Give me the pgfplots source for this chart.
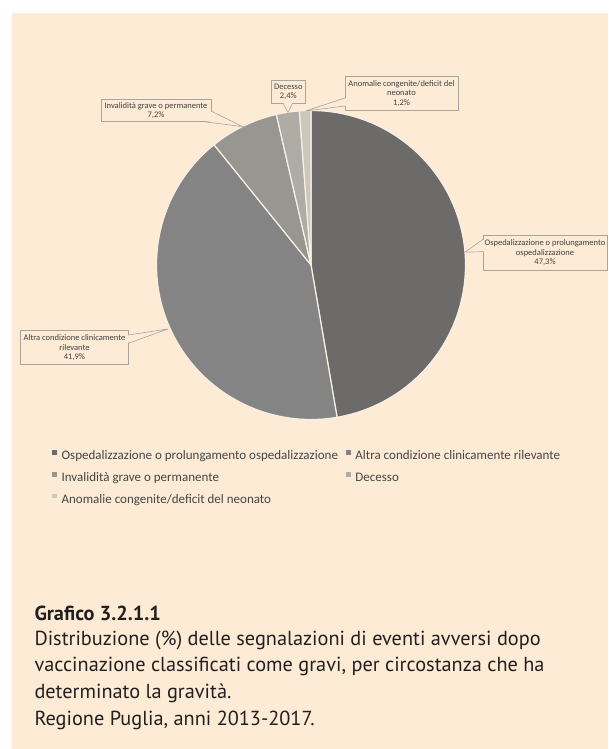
\documentclass[border=0pt]{standalone}
\usepackage{pgfplots}
\pgfplotsset{compat=1.18}
\usepackage{fontspec}
\setmainfont{Carlito}
\newfontfamily\capfont{PT Sans}
\definecolor{bg}{HTML}{FDEBD6}
\definecolor{cA}{HTML}{6D6B6A}
\definecolor{cB}{HTML}{858484}
\definecolor{cC}{HTML}{989691}
\definecolor{cD}{HTML}{AFACA5}
\definecolor{cE}{HTML}{CDC6BA}
\definecolor{sep}{HTML}{F8F0E4}
\definecolor{boxline}{HTML}{A8A49E}
\definecolor{labtext}{HTML}{404040}
\definecolor{legtext}{HTML}{454545}
\definecolor{captext}{HTML}{231F20}
\begin{document}
\begin{tikzpicture}
\useasboundingbox (0,0) rectangle (608pt,749pt);
\fill[white] (0,0) rectangle (608pt,749pt);
\fill[bg] (12pt,0pt) rectangle (608pt,736pt);
\begin{axis}[
  at={(311pt,484pt)}, anchor=center,
  x=154.5pt, y=154.5pt,
  xmin=-1, xmax=1, ymin=-1, ymax=1,
  hide axis, clip=false,
  legend columns=2,
  legend cell align=left,
  legend image code/.code={\fill[#1,draw=none] (0pt,1.9pt) rectangle (4.6pt,6.5pt);},
  legend style={at={(axis cs:-1.6764,-1.1961)}, anchor=north west,
    draw=none, fill=none, inner sep=0pt, row sep=9.2pt,
    font=\fontsize{13}{15}\selectfont, text=legtext,
    nodes={inner sep=0pt, text height=9.5pt, text depth=3pt},
    /tikz/every odd column/.append style={column sep=4.8pt},
    /tikz/every even column/.append style={column sep=8pt}},
]
% percentages: 47.3, 41.9, 7.2, 2.4, 1.2 (clockwise from 12 o'clock)
\addplot[fill=cA, draw=sep, line width=1.2pt, domain={90-3.6*0}:{90-3.6*47.3}, samples=120] ({cos(x)},{sin(x)}) -- (axis cs:0,0) -- cycle;
\addlegendentry{Ospedalizzazione o prolungamento ospedalizzazione}
\addplot[fill=cB, draw=sep, line width=1.2pt, domain={90-3.6*47.3}:{90-3.6*(47.3+41.9)}, samples=120] ({cos(x)},{sin(x)}) -- (axis cs:0,0) -- cycle;
\addlegendentry{Altra condizione clinicamente rilevante}
\addplot[fill=cC, draw=sep, line width=1.2pt, domain={90-3.6*(47.3+41.9)}:{90-3.6*(47.3+41.9+7.2)}, samples=40] ({cos(x)},{sin(x)}) -- (axis cs:0,0) -- cycle;
\addlegendentry{Invalidità grave o permanente}
\addplot[fill=cD, draw=sep, line width=1.2pt, domain={90-3.6*(47.3+41.9+7.2)}:{90-3.6*(47.3+41.9+7.2+2.4)}, samples=20] ({cos(x)},{sin(x)}) -- (axis cs:0,0) -- cycle;
\addlegendentry{Decesso}
\addplot[fill=cE, draw=sep, line width=1.2pt, domain={90-3.6*(47.3+41.9+7.2+2.4)}:{90-3.6*(47.3+41.9+7.2+2.4+1.2)}, samples=12] ({cos(x)},{sin(x)}) -- (axis cs:0,0) -- cycle;
\addlegendentry{Anomalie congenite/deficit del neonato}
\end{axis}
\begin{scope}[x=1pt, y=-1pt, shift={(0pt,749pt)}]
  \tikzset{cbox/.style={fill=bg, draw=boxline, line width=0.6pt},
           cwedge/.style={draw=boxline, line width=0.6pt},
           ctext/.style={align=center, text=labtext, inner sep=0pt, font=\fontsize{8.5}{9.4}\selectfont}}
  % Ospedalizzazione
  \draw[cbox] (483,235) rectangle (607,270.7);
  \fill[bg] (483.8,239.6) -- (465,252.2) -- (483.8,251.6) -- cycle;
  \draw[cwedge] (483,239.3) -- (465,252.2) -- (483,251.7);
  \node[ctext] at (545,253) {Ospedalizzazione o prolungamento\\ospedalizzazione\\47,3\%};
  % Altra
  \draw[cbox] (20.7,330.7) rectangle (128.3,364.3);
  \fill[bg] (127.5,335.2) -- (168,329) -- (127.5,343.1) -- cycle;
  \draw[cwedge] (128.3,335) -- (168,329) -- (128.3,343.3);
  \node[ctext] at (74.5,347.6) {Altra condizione clinicamente\\rilevante\\41,9\%};
  % Invalidita
  \draw[cbox] (101,99) rectangle (211,121.7);
  \fill[bg] (210.2,111.2) -- (242.5,126.6) -- (204,120.9) -- (210.2,120.9) -- cycle;
  \draw[cwedge] (211,111) -- (242.5,126.6) -- (204,121.7);
  \node[ctext] at (156,110.5) {Invalidità grave o permanente\\7,2\%};
  % Decesso
  \draw[cbox] (271.7,80) rectangle (305,103.3);
  \fill[bg] (283.2,102.5) -- (288,112.5) -- (292.3,102.5) -- cycle;
  \draw[cwedge] (283,103.3) -- (288,112.5) -- (292.5,103.3);
  \node[ctext] at (288.3,91.8) {Decesso\\2,4\%};
  % Anomalie
  \draw[cbox] (345,76) rectangle (458,110.7);
  \fill[bg] (345.8,98.2) -- (305.5,111) -- (345.8,105.8) -- cycle;
  \draw[cwedge] (345,98) -- (305.5,111) -- (345,106);
  \node[ctext] at (401.5,93.5) {Anomalie congenite/deficit del\\neonato\\1,2\%};
  % Caption
  \begin{scope}[every node/.style={anchor=base west, inner sep=0pt, text=captext, font=\capfont\fontsize{20.3}{24}\selectfont}]
    \node at (34.3,620.7) {\bfseries Grafico 3.2.1.1};
    \node at (34.3,645.3) {Distribuzione (\%) delle segnalazioni di eventi avversi dopo};
    \node at (34.3,671.9) {vaccinazione classificati come gravi, per circostanza che ha};
    \node at (34.3,698.5) {determinato la gravità.};
    \node at (34.3,725.1) {Regione Puglia, anni 2013-2017.};
  \end{scope}
\end{scope}
\end{tikzpicture}
\end{document}
